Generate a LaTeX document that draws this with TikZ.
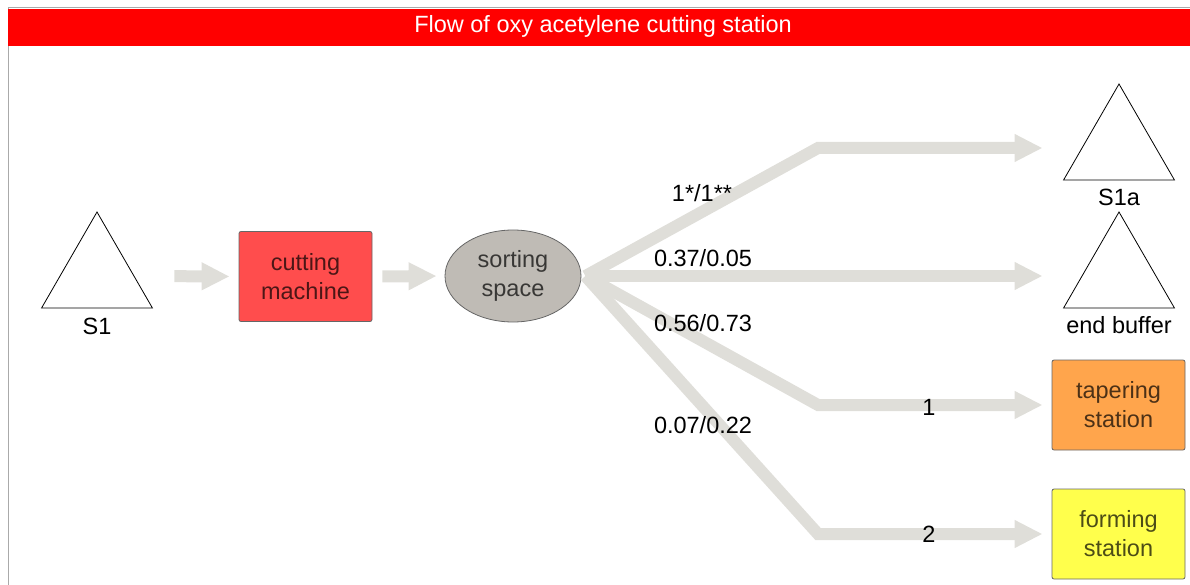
\documentclass[tikz,border=0pt]{standalone}
\usepackage{fontspec}
\setmainfont{Liberation Sans}
\usetikzlibrary{arrows.meta,shapes.geometric}
\definecolor{flowc}{RGB}{223,222,217}
\definecolor{cutc}{RGB}{255,77,77}
\definecolor{sortc}{RGB}{191,187,181}
\definecolor{tapc}{RGB}{255,165,76}
\definecolor{formc}{RGB}{255,255,76}
\definecolor{framec}{RGB}{170,170,170}
\definecolor{titlec}{RGB}{255,0,0}
\tikzset{
  flow/.style={draw=flowc, line width=12pt, -{Triangle[length=28pt,width=26pt]}},
  buffer/.style={draw=black, line width=0.8pt, regular polygon, regular polygon sides=3, minimum size=128pt, inner sep=0pt},
  nodetext/.style={align=center, text=black, text opacity=0.7, font=\fontsize{23.5}{29}\selectfont},
  station/.style={draw=black!60, line width=0.8pt, rounded corners=2pt, minimum width=133pt, minimum height=90pt, nodetext},
  lbl/.style={font=\fontsize{23.5}{28}\selectfont, inner sep=0pt},
}
\begin{document}
\begin{tikzpicture}[x=1pt,y=-1pt]
\useasboundingbox (0,0) rectangle (1190,585);
% frame and title
\draw[framec, line width=1pt] (8,585) -- (8,8) -- (1190,8);
\fill[titlec] (8,9) rectangle (1190,46);
\node[text=white, font=\fontsize{23.5}{28}\selectfont] (title) at (603,26.5) {Flow of oxy acetylene cutting station};
% nodes
\node[buffer] (s1) at (97,276) {};
\node[lbl] (s1l) at (97,326) {S1};
\node[station, fill=cutc] (cm) at (305.5,276.5) {cutting\\machine};
\node[draw=black!60, line width=0.8pt, ellipse, fill=sortc, minimum width=136pt, minimum height=92pt, inner sep=0pt, nodetext] (ss) at (513,276) {sorting\\space};
\node[buffer] (s1a) at (1119,148) {};
\node[lbl] (s1al) at (1119,197) {S1a};
\node[buffer] (eb) at (1119,276) {};
\node[lbl] (ebl) at (1119,325) {end buffer};
\node[station, fill=tapc] (tap) at (1118.5,405) {tapering\\station};
\node[station, fill=formc] (form) at (1118.5,534) {forming\\station};
\coordinate (bx) at (818,0);
% flows
\draw[flow, shorten <=40pt, shorten >=9pt] (s1.east) -- (cm.west);
\draw[flow, shorten <=10pt, shorten >=8pt] (cm.east) -- (ss.west);
\draw[flow, shorten >=39pt] ([xshift=4pt]ss.east) -- (bx |- s1a) -- (s1a.west);
\draw[flow, shorten >=39pt] ([xshift=4pt]ss.east) -- (eb.west);
\draw[flow, shorten >=9pt] ([xshift=4pt]ss.east) -- (bx |- tap) -- (tap.west);
\draw[flow, shorten >=9pt] ([xshift=4pt]ss.east) -- (bx |- form) -- (form.west);
% labels
\node[lbl] (l1) at (702,193) {1*/1**};
\node[lbl] (l2) at (703,258) {0.37/0.05};
\node[lbl] (l3) at (703,323) {0.56/0.73};
\node[lbl] (l4) at (703,425) {0.07/0.22};
\node[lbl] (l5) at (929,407) {1};
\node[lbl] (l6) at (929,534) {2};
\end{tikzpicture}
\end{document}
